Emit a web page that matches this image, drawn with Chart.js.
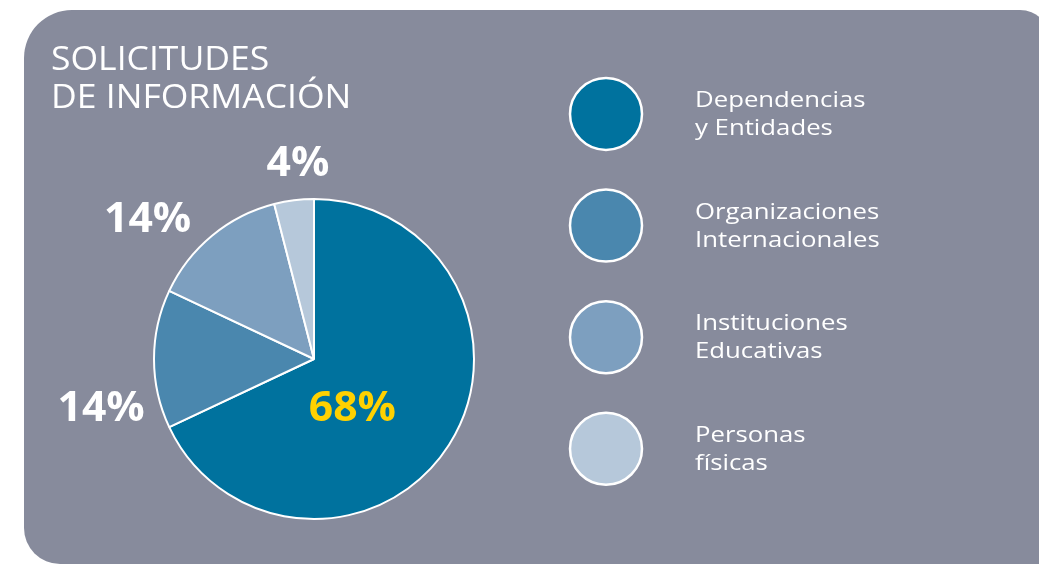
<!DOCTYPE html>
<html>
<head>
<meta charset="utf-8">
<script src="https://cdn.jsdelivr.net/npm/chart.js@4.4.0/dist/chart.umd.min.js"></script>
<style>
  html, body { margin: 0; padding: 0; background: #ffffff; }
  #wrap { width: 1039px; height: 564px; }
</style>
</head>
<body>
<div id="wrap"><canvas id="solicitudesChart" width="1039" height="564"></canvas></div>
<script>
// datos de la gráfica
const categorias = [
  ['Dependencias', 'y Entidades'],
  ['Organizaciones', 'Internacionales'],
  ['Instituciones', 'Educativas'],
  ['Personas', 'físicas']
];
const porcentajes = [68, 14, 14, 4];
const colores = ['#00729e', '#4a87ae', '#7d9fbf', '#b6c8da'];
const titulo = ['SOLICITUDES', 'DE INFORMACIÓN'];

const FONT = '"Open Sans", "Noto Sans", sans-serif';
const PANEL = '#878b9c';

function roundedPanel(ctx, x, y, w, h, r) {
    ctx.beginPath();
    ctx.moveTo(x + r.tl, y);
    ctx.lineTo(x + w - r.tr, y);
    ctx.arcTo(x + w, y, x + w, y + r.tr, r.tr);
    ctx.lineTo(x + w, y + h);
    ctx.lineTo(x + r.bl, y + h);
    ctx.arcTo(x, y + h, x, y + h - r.bl, r.bl);
    ctx.lineTo(x, y + r.tl);
    ctx.arcTo(x, y, x + r.tl, y, r.tl);
    ctx.closePath();
}

// texto ensanchado (la tipografia original es mas ancha)
function textoAncho(ctx, t, x, y, factor, centrado) {
    const w = ctx.measureText(t).width * factor;
    ctx.save();
    ctx.translate(centrado ? x - w / 2 : x, y);
    ctx.scale(factor, 1);
    ctx.textAlign = 'left';
    ctx.fillText(t, 0, 0);
    ctx.restore();
}

const fondoPlugin = {
    id: 'fondo',
    beforeDraw(chart) {
        const ctx = chart.ctx;
        ctx.save();
        ctx.fillStyle = PANEL;
        roundedPanel(ctx, 24, 10, 1026, 554, { tl: 48, tr: 30, bl: 36 });
        ctx.fill();

        // titulo
        ctx.fillStyle = '#ffffff';
        ctx.font = '400 32px ' + FONT;
        ctx.textBaseline = 'alphabetic';
        titulo.forEach((t, i) => textoAncho(ctx, t, 51, 70 + i * 38, 1.11));
        ctx.restore();
    }
};

const etiquetasPlugin = {
    id: 'etiquetas',
    afterDatasetsDraw(chart) {
        const ctx = chart.ctx;
        const arcs = chart.getDatasetMeta(0).data;
        const cx = arcs[0].x, cy = arcs[0].y, r = arcs[0].outerRadius;
        // desplazamientos relativos al centro, en fracciones del radio
        const offs = [[0.24, 0.31], [-1.33, 0.31], [-1.04, -0.87], [-0.10, -1.22]];
        ctx.save();
        ctx.font = '700 41px ' + FONT;
        ctx.textBaseline = 'middle';
        porcentajes.forEach((v, i) => {
            ctx.fillStyle = i === 0 ? '#ffd100' : '#ffffff';
            textoAncho(ctx, v + '%', cx + offs[i][0] * r, cy + offs[i][1] * r + 1, 1.04, true);
        });

        // leyenda
        const lx = 606, ly = 114, paso = 111.6, lr = 36;
        categorias.forEach((lineas, i) => {
            const y = ly + i * paso;
            ctx.beginPath();
            ctx.arc(lx, y, lr, 0, Math.PI * 2);
            ctx.fillStyle = colores[i];
            ctx.fill();
            ctx.lineWidth = 2.5;
            ctx.strokeStyle = '#ffffff';
            ctx.stroke();

            ctx.fillStyle = '#ffffff';
            ctx.font = '500 22px ' + FONT;
            ctx.textBaseline = 'alphabetic';
            lineas.forEach((t, j) => textoAncho(ctx, t, 695, y - 7 + j * 28, 1.17));
        });
        ctx.restore();
    }
};

const ctx = document.getElementById('solicitudesChart').getContext('2d');
new Chart(ctx, {
    type: 'pie',
    data: {
        labels: categorias.map(c => c.join(' ')),
        datasets: [{
            data: porcentajes,
            backgroundColor: colores,
            borderColor: '#ffffff',
            borderWidth: 2
        }]
    },
    options: {
        responsive: false,
        animation: false,
        layout: { padding: { left: 153, right: 564, top: 198, bottom: 44 } },
        plugins: {
            legend: { display: false },
            tooltip: { enabled: false }
        }
    },
    plugins: [fondoPlugin, etiquetasPlugin]
});
</script>
</body>
</html>
